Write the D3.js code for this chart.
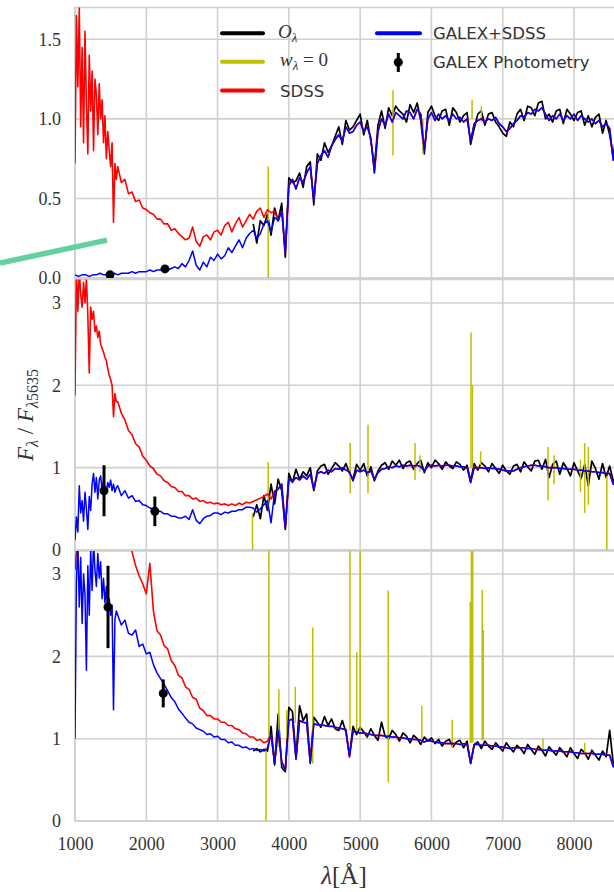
<!DOCTYPE html>
<html><head><meta charset="utf-8">
<script src="https://cdn.jsdelivr.net/npm/d3@7"></script>
<style>html,body{margin:0;padding:0;background:#fff;} svg{display:block;}</style>
</head><body><svg id="c" width="614" height="892"></svg>
<script>
// ---------- DATA ----------
// main wavelength grid (Å), 1000..8650 step 50; fine far-UV grid 1000..1580 step 20
const waveGrid = d3.range(1000, 8651, 50);
const waveFine = d3.range(1000, 1600, 20);
const xTicks = [1000, 2000, 3000, 4000, 5000, 6000, 7000, 8000];
const p1Ticks = [0, 0.5, 1.0, 1.5];
const p2Ticks = [0, 1, 2, 3];
const p3Ticks = [0, 1, 2, 3];

// Panel 1
const p1Blue = [
 0.02,0.01,0.02,0.02,0.01,0.02,0.02,0.03,0.02,0.02,
 0.02,0.03,0.02,0.03,0.03,0.03,0.04,0.03,0.04,0.04,
 0.04,0.05,0.04,0.05,0.05,0.06,0.05,0.06,0.07,0.06,
 0.09,0.07,0.11,0.17,0.08,0.05,0.10,0.07,0.13,0.11,
 0.15,0.12,0.14,0.19,0.16,0.20,0.24,0.19,0.25,0.28,
 0.30,0.25,0.28,0.34,0.36,0.29,0.38,0.36,0.42,0.16,
 0.58,0.62,0.56,0.63,0.60,0.66,0.70,0.49,0.72,0.77,
 0.80,0.76,0.83,0.87,0.90,0.86,0.95,0.91,0.92,0.96,
 0.98,0.92,0.95,0.88,0.66,0.92,1.00,0.96,1.03,0.98,
 1.04,1.02,1.00,1.05,1.04,1.00,1.06,1.03,0.80,1.00,
 1.04,0.99,1.03,1.00,1.02,0.99,1.03,1.00,1.01,0.98,
 1.00,0.86,0.97,0.99,1.00,0.98,1.00,0.99,1.01,0.97,
 0.95,0.92,0.94,0.97,0.99,1.02,1.01,1.04,1.03,1.06,
 1.05,1.07,1.03,0.99,1.02,1.00,1.03,0.99,1.02,1.00,
 1.03,0.99,1.02,1.00,0.98,1.00,0.97,0.99,0.95,0.97,
 0.94,0.74,0.92,0.90];
const p1RedUV = [
 1.10,1.68,0.85,1.55,0.78,1.45,0.95,1.30,1.00,1.18,
 0.78,0.35,0.70,0.60,0.62,0.53,0.54,0.48,0.49,0.44,
 0.43,0.41,0.40,0.37,0.37,0.34,0.34,0.30,0.31,0.28,
 0.26,0.24,0.25,0.32,0.23,0.20,0.26,0.27,0.24,0.29,
 0.30,0.27,0.33,0.35,0.29,0.34,0.38,0.32,0.36,0.40,
 0.37,0.42,0.44,0.38,0.43,0.41,0.42];
const p1RedFine = [
 0.72,1.65,1.20,1.70,0.95,1.45,0.85,1.55,1.10,0.78,
 1.40,1.05,1.30,0.80,1.25,1.15,0.90,1.22,1.00,1.12,
 0.85,1.02,0.75,0.92,0.80,0.70,0.85,0.35,0.72,0.62];
const p1Black = [
 0.34,0.22,0.36,0.33,0.40,0.27,0.44,0.36,0.47,0.13,
 0.63,0.60,0.61,0.66,0.57,0.70,0.73,0.46,0.78,0.74,
 0.85,0.79,0.83,0.89,0.95,0.84,0.99,0.93,0.95,0.99,
 1.03,0.90,0.99,0.86,0.70,0.96,1.05,0.94,1.07,1.02,
 1.08,1.05,1.03,0.98,1.09,1.04,1.10,0.99,0.78,1.04,
 1.08,1.02,0.99,1.05,1.06,0.96,1.07,1.04,0.98,1.02,
 1.04,0.84,0.94,1.03,1.05,0.96,1.03,1.04,0.98,0.95,
 0.91,0.89,0.98,0.95,1.03,1.06,0.99,1.08,1.07,1.02,
 1.10,1.11,1.00,1.03,0.98,1.05,1.06,0.97,1.06,1.03,
 0.99,1.04,1.05,0.96,1.02,0.95,1.01,1.03,0.91,0.99,
 0.90,0.76,0.95,0.92];
const p1MaskWave = [3710, 5460, 5880, 6570, 6700];
const p1MaskLo   = [0.00, 0.77, 0.78, 1.00, 0.98];
const p1MaskHi   = [0.70, 1.18, 1.00, 1.12, 1.08];
const p1PhotWave = [1491, 2262];
const p1PhotFlux = [0.02, 0.057];
const p1PhotErr  = [0.006, 0.01];

// Panel 2
const p2Blue = [
 0.18,0.45,0.30,0.62,0.25,0.70,0.90,0.62,0.88,0.72,
 0.85,0.70,0.78,0.66,0.72,0.63,0.66,0.59,0.60,0.55,
 0.54,0.51,0.50,0.47,0.47,0.44,0.44,0.41,0.41,0.39,
 0.39,0.41,0.37,0.49,0.36,0.32,0.38,0.41,0.42,0.45,
 0.45,0.43,0.46,0.45,0.47,0.47,0.49,0.49,0.52,0.52,
 0.51,0.46,0.50,0.55,0.60,0.33,0.70,0.74,0.80,0.27,
 0.86,0.83,0.88,0.85,0.90,0.86,0.92,0.74,0.93,0.95,
 0.93,0.97,0.95,0.99,0.98,1.00,0.97,0.95,0.84,0.97,
 0.95,0.97,0.94,0.96,0.86,0.94,0.98,0.99,1.01,1.00,
 1.02,1.01,1.03,1.02,1.03,1.02,1.03,1.01,0.96,1.02,
 1.03,1.02,1.03,1.02,1.03,1.03,1.02,1.02,1.01,1.01,
 1.00,0.82,1.00,1.00,1.00,0.99,1.00,0.99,0.99,0.98,
 0.97,0.96,0.96,0.96,0.98,1.00,1.01,1.02,1.03,1.03,
 1.02,1.02,1.01,1.00,1.00,1.00,0.99,0.99,0.98,0.98,
 0.98,0.97,0.97,0.96,0.96,0.95,0.95,0.94,0.94,0.93,
 0.93,0.80,0.92,0.92];
const p2BlueFine = [
 0.12,0.40,0.22,0.78,0.45,0.60,0.35,0.70,0.50,0.25,
 0.65,0.48,0.80,0.93,0.70,0.88,0.62,0.85,0.90,0.72,
 0.84,0.78,0.70,0.82,0.76,0.85,0.72,0.80,0.70,0.76];
const p2RedUV = [
 1.88,3.40,3.00,3.35,2.15,2.90,2.67,2.55,2.39,2.25,
 2.07,1.62,1.80,1.66,1.58,1.45,1.40,1.29,1.25,1.14,
 1.09,1.02,0.99,0.92,0.90,0.84,0.82,0.77,0.76,0.71,
 0.71,0.66,0.66,0.62,0.63,0.59,0.60,0.57,0.58,0.56,
 0.57,0.55,0.56,0.54,0.56,0.54,0.57,0.55,0.58,0.57,
 0.59,0.61,0.63,0.65,0.68,0.62,0.72];
const p2RedFine = [
 1.88,3.40,2.90,3.40,3.10,2.95,3.25,3.00,3.30,2.85,
 2.15,2.95,2.80,2.90,2.65,2.72,2.58,2.66,2.50,2.45,
 2.40,2.34,2.30,2.20,2.12,2.07,2.00,1.62,1.90,1.80];
const p2Black = [
 0.40,0.55,0.38,0.66,0.48,0.80,0.56,0.86,0.72,0.25,
 0.93,0.82,0.98,0.86,0.95,0.90,1.00,0.72,0.96,1.02,
 1.04,0.92,0.99,1.06,1.02,0.96,1.05,0.93,0.86,1.04,
 0.97,1.05,0.90,1.01,0.84,0.96,1.03,1.06,0.98,1.08,
 1.03,1.09,0.99,1.06,1.08,0.98,1.05,1.09,0.94,1.06,
 1.00,1.09,1.05,0.98,1.07,1.02,0.99,1.07,1.04,0.97,
 1.03,0.84,1.05,0.97,1.06,1.02,0.95,1.05,0.99,0.93,
 1.03,0.96,0.92,1.02,1.04,0.95,1.07,1.01,0.96,1.08,
 1.09,0.98,1.10,0.88,1.04,1.08,0.92,1.06,0.99,0.90,
 1.06,0.96,0.87,1.04,0.78,1.08,0.99,0.86,1.05,0.88,
 1.02,0.84,0.88,0.95];
const p2MaskWave = [3490, 3710, 4860, 5110, 5770, 5840, 6555, 6575, 6690, 7635, 7720, 8090, 8150, 8200, 8460];
const p2MaskLo   = [0.00, 0.52, 0.69, 0.69, 0.85, 0.95, 1.00, 1.00, 1.03, 0.60, 0.80, 0.70, 0.45, 0.55, 0.00];
const p2MaskHi   = [0.45, 1.07, 1.30, 1.52, 1.30, 1.15, 2.64, 2.00, 1.20, 1.25, 1.15, 1.10, 1.30, 1.25, 0.90];
const p2PhotWave = [1407, 2120];
const p2PhotFlux = [0.72, 0.47];
const p2PhotErr  = [0.31, 0.18];

// Panel 3
const p3Blue = [
 1.00,3.10,2.50,3.20,1.83,3.05,2.45,3.35,2.70,3.05,
 2.60,1.35,2.50,2.38,2.44,2.28,2.26,2.32,2.12,2.15,
 2.03,2.05,1.90,1.80,1.73,1.66,1.58,1.50,1.45,1.36,
 1.31,1.25,1.20,1.18,1.13,1.11,1.09,1.05,1.06,1.02,
 1.03,0.99,0.99,0.95,0.96,0.92,0.92,0.89,0.90,0.87,
 0.88,0.86,0.87,0.85,0.88,1.05,0.70,1.10,0.72,0.62,
 1.22,1.24,0.75,1.22,1.20,1.19,0.70,1.18,1.17,1.17,
 1.16,1.15,1.15,1.14,1.13,1.12,1.11,0.78,1.09,1.08,
 1.07,1.07,1.06,1.05,1.04,1.04,1.04,1.03,1.03,1.02,
 1.02,1.01,1.01,1.00,1.00,0.99,0.99,0.98,0.96,0.98,
 0.97,0.96,0.95,0.95,0.94,0.94,0.94,0.94,0.93,0.94,
 0.93,0.70,0.93,0.93,0.92,0.92,0.92,0.91,0.91,0.90,
 0.90,0.89,0.88,0.89,0.89,0.89,0.89,0.88,0.88,0.87,
 0.87,0.86,0.86,0.86,0.85,0.85,0.85,0.84,0.84,0.84,
 0.83,0.83,0.82,0.82,0.82,0.82,0.81,0.81,0.81,0.80,
 0.80,0.66,0.78,0.78];
const p3BlueFine = [
 1.00,2.90,3.40,2.60,3.20,2.40,3.00,2.75,1.83,3.10,
 2.50,3.30,2.80,3.40,3.05,2.85,3.25,2.95,3.15,2.70,
 2.95,2.65,2.85,2.55,2.70,2.50,2.62,1.35,2.45,2.55];
const p3RedUV = [
 3.05,3.60,3.80,3.90,3.95,3.90,3.85,3.80,3.75,3.70,
 3.65,3.60,3.55,3.50,3.45,3.40,3.27,3.10,2.98,2.88,
 2.76,3.13,2.55,2.31,2.26,2.13,2.09,1.95,1.89,1.77,
 1.74,1.63,1.60,1.50,1.48,1.37,1.34,1.28,1.28,1.24,
 1.24,1.20,1.20,1.16,1.16,1.12,1.11,1.07,1.06,1.02,
 1.02,0.98,0.99,0.95,0.97,1.05,0.70];
const p3Black = [
 0.85,0.88,0.84,0.87,0.85,1.15,0.68,1.30,0.65,0.60,
 1.38,1.33,0.78,1.40,1.22,1.30,0.72,1.26,1.20,1.14,
 1.27,1.16,1.24,1.12,1.10,1.22,1.08,0.80,1.15,1.05,
 1.14,1.08,1.02,1.12,1.04,0.98,1.20,1.03,1.00,1.10,
 1.05,0.97,1.07,1.03,0.95,1.04,1.00,0.93,1.02,0.97,
 1.01,0.94,0.99,0.91,0.97,0.99,0.90,0.96,0.98,0.89,
 0.97,0.70,0.93,0.96,0.88,0.97,0.91,0.87,0.95,0.90,
 0.85,0.95,0.89,0.84,0.92,0.88,0.82,0.93,0.87,0.81,
 0.91,0.86,0.79,0.90,0.85,0.80,0.89,0.84,0.78,0.89,
 0.82,0.76,0.87,0.83,0.75,0.86,0.80,0.74,0.85,0.78,
 1.10,0.70,0.72,0.80];
const p3MaskWave = [3680, 3720, 3860, 3970, 4090, 4335, 4857, 4952, 5000, 5394, 5865, 6292, 6545, 6560, 6580, 6712, 6728, 7565, 8150];
const p3MaskLo   = [0.00, 0.90, 0.90, 1.00, 1.19, 0.70, 1.10, 1.10, 1.05, 0.47, 1.00, 0.90, 0.95, 0.95, 0.95, 0.98, 0.98, 0.85, 0.80];
const p3MaskHi   = [0.90, 3.40, 1.60, 1.35, 1.63, 2.35, 3.40, 2.05, 3.40, 2.80, 1.40, 1.23, 2.66, 3.40, 3.40, 2.81, 2.32, 1.00, 0.95];
const p3PhotWave = [1463, 2238];
const p3PhotFlux = [2.60, 1.55];
const p3PhotErr  = [0.50, 0.17];

// stray annotation stroke (data coords of panel 1)
const annoWave = [-52, 1449];
const annoFlux = [0.094, 0.238];

// ---------- DRAW ----------
const svg = d3.select("#c");
const gridColor = "#d0d0d0";
const serif = "'Liberation Serif', 'Times New Roman', serif";
const sans = "'DejaVu Sans', sans-serif";
const x = d3.scaleLinear().domain([1000, 8645]).range([75, 620]);

const panels = [
  {top: 7.5, bottom: 278, ymax: 1.70, ticks: p1Ticks, fmt: d3.format(".1f"), blue: p1Blue, blueFine: null, red: p1RedUV, redFine: p1RedFine, black: p1Black,
   mW: p1MaskWave, mLo: p1MaskLo, mHi: p1MaskHi, pW: p1PhotWave, pF: p1PhotFlux, pE: p1PhotErr},
  {top: 279.5, bottom: 550, ymax: 3.285, ticks: p2Ticks, fmt: d3.format("d"), blue: p2Blue, blueFine: p2BlueFine, red: p2RedUV, redFine: p2RedFine, black: p2Black,
   mW: p2MaskWave, mLo: p2MaskLo, mHi: p2MaskHi, pW: p2PhotWave, pF: p2PhotFlux, pE: p2PhotErr},
  {top: 551, bottom: 821, ymax: 3.28, ticks: p3Ticks, fmt: d3.format("d"), blue: p3Blue, blueFine: p3BlueFine, red: p3RedUV, redFine: null, black: p3Black,
   mW: p3MaskWave, mLo: p3MaskLo, mHi: p3MaskHi, pW: p3PhotWave, pF: p3PhotFlux, pE: p3PhotErr}
];

function series(main, fine) {
  const pts = d3.zip(waveGrid, main);
  if (!fine) return pts;
  return d3.zip(waveFine, fine).concat(pts.filter(d => d[0] >= 1600));
}

const defs = svg.append("defs");
const yScales = [];

panels.forEach((p, i) => {
  const y = d3.scaleLinear().domain([0, p.ymax]).range([p.bottom, p.top]);
  yScales.push(y);
  const g = svg.append("g");
  const cid = "clip" + i;
  defs.append("clipPath").attr("id", cid).append("rect")
    .attr("x", 75).attr("y", p.top).attr("width", 545).attr("height", p.bottom - p.top);

  g.append("g").selectAll("line").data(xTicks).join("line")
    .attr("x1", d => x(d)).attr("x2", d => x(d)).attr("y1", p.top).attr("y2", p.bottom)
    .attr("stroke", gridColor).attr("stroke-width", 1.6);
  g.append("g").selectAll("line").data(p.ticks).join("line")
    .attr("x1", 75).attr("x2", 620).attr("y1", d => y(d)).attr("y2", d => y(d))
    .attr("stroke", gridColor).attr("stroke-width", 1.6);
  g.append("rect").attr("x", 75).attr("y", p.top).attr("width", 545).attr("height", p.bottom - p.top)
    .attr("fill", "none").attr("stroke", gridColor).attr("stroke-width", 1.6);

  const plot = g.append("g").attr("clip-path", `url(#${cid})`);
  const line = d3.line().x(d => x(d[0])).y(d => y(d[1]));

  const blackPts = d3.zip(waveGrid.slice(waveGrid.length - p.black.length), p.black);
  plot.append("path").attr("d", line(blackPts)).attr("fill", "none")
    .attr("stroke", "#000").attr("stroke-width", 1.7).attr("stroke-linejoin", "round");
  p.mW.forEach((w, k) => {
    plot.append("path").attr("d", line([[w, p.mLo[k]], [w, p.mHi[k]]]))
      .attr("stroke", "#bfbf00").attr("stroke-width", 1.5).attr("fill", "none");
  });
  const redVals = p.red.concat(p.blue.slice(p.red.length));
  plot.append("path").attr("d", line(series(redVals, p.redFine))).attr("fill", "none")
    .attr("stroke", "#ff0000").attr("stroke-width", 1.6).attr("stroke-linejoin", "round");
  plot.append("path").attr("d", line(series(p.blue, p.blueFine))).attr("fill", "none")
    .attr("stroke", "#0000ff").attr("stroke-width", 1.5).attr("stroke-linejoin", "round");
  p.pW.forEach((w, k) => {
    plot.append("line").attr("x1", x(w)).attr("x2", x(w))
      .attr("y1", y(p.pF[k] - p.pE[k])).attr("y2", y(p.pF[k] + p.pE[k]))
      .attr("stroke", "#000").attr("stroke-width", 3);
    plot.append("circle").attr("cx", x(w)).attr("cy", y(p.pF[k])).attr("r", 4.5).attr("fill", "#000");
  });

  const ay = g.append("g").attr("transform", "translate(75,0)")
    .call(d3.axisLeft(y).tickValues(p.ticks).tickFormat(p.fmt).tickSize(0).tickPadding(14));
  ay.select(".domain").remove();
  ay.selectAll("text").attr("font-family", serif).attr("font-size", 18).attr("fill", "#333");

  if (i === 2) {
    const ax = g.append("g").attr("transform", `translate(0,${p.bottom})`)
      .call(d3.axisBottom(x).tickValues(xTicks).tickFormat(d3.format("d")).tickSize(0).tickPadding(16));
    ax.select(".domain").remove();
    ax.selectAll("text").attr("font-family", serif).attr("font-size", 18).attr("fill", "#333");
  }
});

svg.append("path")
  .attr("d", d3.line().x(d => x(d[0])).y(d => yScales[0](d[1]))(d3.zip(annoWave, annoFlux)))
  .attr("stroke", "#64d09e").attr("stroke-width", 5.5).attr("fill", "none");

const yl = svg.append("text").attr("transform", "translate(33,415) rotate(-90)")
  .attr("text-anchor", "middle").attr("font-family", serif).attr("fill", "#333").attr("font-size", 23);
yl.append("tspan").attr("font-style", "italic").text("F");
yl.append("tspan").attr("font-size", 16).attr("font-style", "italic").attr("dy", 5).text("λ");
yl.append("tspan").attr("dy", -5).text(" / ");
yl.append("tspan").attr("font-style", "italic").text("F");
yl.append("tspan").attr("font-size", 16).attr("dy", 5).attr("font-style", "italic").text("λ");
yl.append("tspan").attr("font-size", 16).text("5635");

const xl = svg.append("text").attr("x", 344).attr("y", 884).attr("text-anchor", "middle")
  .attr("font-family", serif).attr("fill", "#333").attr("font-size", 25);
xl.append("tspan").attr("font-style", "italic").text("λ");
xl.append("tspan").text("[Å]");

const legend = svg.append("g");
const legLines = [
  {x1: 222, x2: 263, y: 33.3, c: "#000"},
  {x1: 222, x2: 263, y: 61.7, c: "#bfbf00"},
  {x1: 222, x2: 263, y: 90.5, c: "#ff0000"},
  {x1: 377, x2: 420, y: 33.3, c: "#0000ff"}
];
legLines.forEach(l => legend.append("line").attr("x1", l.x1).attr("x2", l.x2).attr("y1", l.y).attr("y2", l.y)
  .attr("stroke", l.c).attr("stroke-width", 4).attr("stroke-linecap", "round"));
legend.append("line").attr("x1", 398.3).attr("x2", 398.3).attr("y1", 53).attr("y2", 72)
  .attr("stroke", "#000").attr("stroke-width", 3);
legend.append("circle").attr("cx", 398.3).attr("cy", 62.3).attr("r", 4.5).attr("fill", "#000");

const t1 = legend.append("text").attr("x", 278).attr("y", 38).attr("font-family", serif).attr("fill", "#333").attr("font-size", 19);
t1.append("tspan").attr("font-style", "italic").text("O");
t1.append("tspan").attr("font-style", "italic").attr("font-size", 13).attr("dy", 4).text("λ");
const t2 = legend.append("text").attr("x", 280).attr("y", 66).attr("font-family", serif).attr("fill", "#333").attr("font-size", 19);
t2.append("tspan").attr("font-style", "italic").text("w");
t2.append("tspan").attr("font-style", "italic").attr("font-size", 13).attr("dy", 4).text("λ");
t2.append("tspan").attr("dy", -4).text(" = 0");
legend.append("text").attr("x", 280).attr("y", 97).attr("font-family", sans).attr("font-size", 16.5).attr("fill", "#333").text("SDSS");
legend.append("text").attr("x", 433).attr("y", 39).attr("font-family", sans).attr("font-size", 16.5).attr("fill", "#333").text("GALEX+SDSS");
legend.append("text").attr("x", 433).attr("y", 68).attr("font-family", sans).attr("font-size", 16.5).attr("fill", "#333").text("GALEX Photometry");
</script>
</body></html>
